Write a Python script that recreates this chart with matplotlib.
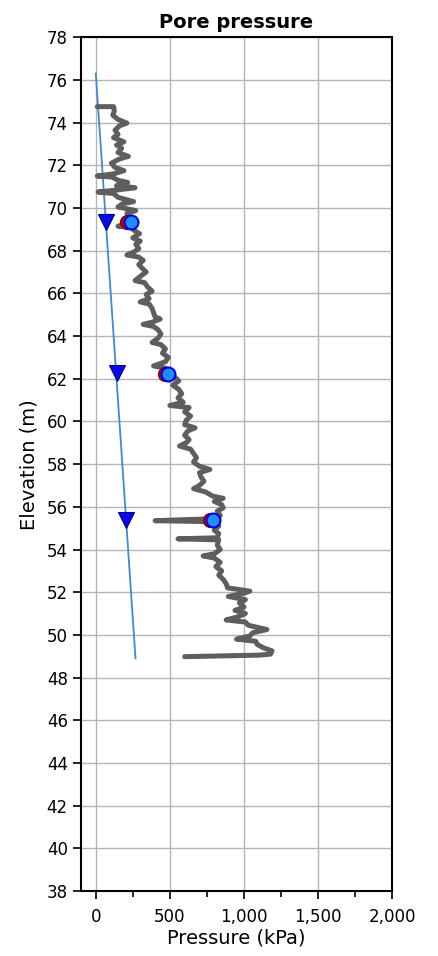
import matplotlib.pyplot as plt
from matplotlib.ticker import MultipleLocator, FuncFormatter

# Measured pore pressure profile (elevation m, pressure kPa)
trace_elev = [74.75, 74.75, 74.55, 74.35, 74.15, 73.98, 73.85, 73.65, 73.45, 73.3,
              73.1, 72.95, 72.8, 72.6, 72.42, 72.3, 72.1, 71.9, 71.75, 71.6,
              71.5, 71.45, 71.3, 71.2, 71.05, 70.95, 70.85, 70.75, 70.68, 70.5,
              70.3, 70.2, 70.05, 69.88, 69.75, 69.5, 69.25, 69.15, 69.1, 68.95,
              68.8, 68.6, 68.45, 68.3, 68.1, 67.95, 67.8, 67.7, 67.55, 67.35,
              67.2, 67.0, 66.85, 66.6, 66.5, 66.3, 66.1, 65.95, 65.75, 65.6,
              65.5, 65.3, 65.1, 64.9, 64.8, 64.65, 64.55, 64.45, 64.3, 64.1,
              63.9, 63.7, 63.6, 63.4, 63.2, 63.0, 62.8, 62.6, 62.5, 62.3,
              62.1, 61.9, 61.7, 61.5, 61.3, 61.1, 60.9, 60.75, 60.65, 60.45,
              60.25, 60.05, 59.85, 59.7, 59.55, 59.35, 59.15, 59.0, 58.85, 58.7,
              58.5, 58.3, 58.1, 57.9, 57.75, 57.6, 57.4, 57.2, 57.0, 56.85,
              56.7, 56.5, 56.4, 56.25, 56.1, 55.95, 55.8, 55.6, 55.45, 55.35,
              55.3, 55.1, 54.9, 54.75, 54.55, 54.5, 54.45, 54.2, 54.0, 53.8,
              53.7, 53.6, 53.4, 53.2, 53.0, 52.8, 52.6, 52.4, 52.2, 52.05,
              51.95, 51.8, 51.65, 51.5, 51.3, 51.15, 51.0, 50.85, 50.7, 50.6,
              50.45, 50.25, 50.1, 49.95, 49.8, 49.7, 49.55, 49.4, 49.25, 49.1,
              49.05, 48.98]
trace_pres = [10, 120, 125, 115, 150, 210, 160, 130, 150, 120,
              190, 140, 175, 150, 220, 160, 105, 130, 190, 120,
              10, 110, 150, 215, 140, 265, 150, 15, 120, 150,
              255, 180, 150, 270, 210, 230, 240, 150, 235, 260,
              295, 250, 300, 270, 290, 260, 210, 290, 320, 290,
              310, 340, 310, 265, 330, 350, 380, 340, 360, 300,
              360, 380, 390, 400, 435, 380, 320, 390, 420, 440,
              420, 380, 440, 470, 450, 490, 470, 390, 470, 500,
              530, 560, 520, 560, 580, 555, 590, 500, 630, 600,
              640, 610, 600, 670, 620, 600, 630, 610, 565, 640,
              660, 680, 660, 700, 770, 700, 710, 730, 700, 660,
              740, 790, 860, 800, 850, 860, 820, 840, 820, 400,
              820, 830, 800, 830, 820, 555, 830, 820, 840, 800,
              725, 800, 840, 810, 850, 830, 860, 880, 890, 1040,
              1000, 895, 1010, 970, 1000, 940, 1010, 960, 880, 1010,
              1030, 1155, 1060, 1040, 950, 1080, 1090, 1130, 1190, 1180,
              1100, 600]

# Hydrostatic line and water level markers
hydro_elev = [76.3, 48.9]
hydro_pres = [0, 268]
tri_elev = [69.35, 62.25, 55.38]
tri_pres = [66, 140, 203]

# Piezometer readings (previous and current)
piezo_elev = [69.35, 62.2, 55.38]
piezo_prev = [210, 467, 770]
piezo_curr = [235, 490, 794]

fig = plt.figure(figsize=(4.39, 9.56), dpi=100)
ax = fig.add_axes([0.1845, 0.068, 0.7085, 0.893])

ax.plot(hydro_pres, hydro_elev, color="#3d8bd4", lw=1.3, zorder=2)
ax.plot(trace_pres, trace_elev, color="#5e5e5e", lw=3.6, solid_capstyle="round",
        solid_joinstyle="round", zorder=3)
ax.plot(tri_pres, tri_elev, "v", ms=12, color="#0a0ae6", mec="#00008b", mew=0.8, zorder=4)
ax.plot(piezo_prev, piezo_elev, "o", ms=10, color="#c00000", mec="#8b0000", zorder=4)
ax.plot(piezo_curr, piezo_elev, "o", ms=10, color="#1e8fff", mec="#0000ee", mew=1.5, zorder=5)

ax.set_xlim(-100, 2000)
ax.set_ylim(38, 78)
ax.xaxis.set_major_locator(MultipleLocator(500))
ax.xaxis.set_minor_locator(MultipleLocator(250))
ax.yaxis.set_major_locator(MultipleLocator(2))
ax.xaxis.set_major_formatter(FuncFormatter(lambda v, p: f"{int(v):,}"))
ax.grid(True, which="major", color="#b4b4b4", lw=1)
ax.set_axisbelow(True)
ax.tick_params(axis="both", which="major", direction="out", length=6, width=1.2, labelsize=12)
ax.tick_params(axis="x", which="major", pad=6)
ax.tick_params(axis="x", which="minor", direction="out", length=4, width=1.2)
for s in ax.spines.values():
    s.set_linewidth(1.5)

ax.set_title("Pore pressure", fontsize=14, fontweight="bold", pad=7)
ax.set_xlabel("Pressure (kPa)", fontsize=14, labelpad=2)
ax.set_ylabel("Elevation (m)", fontsize=14, labelpad=6)

fig.savefig("out.png", dpi=100)
